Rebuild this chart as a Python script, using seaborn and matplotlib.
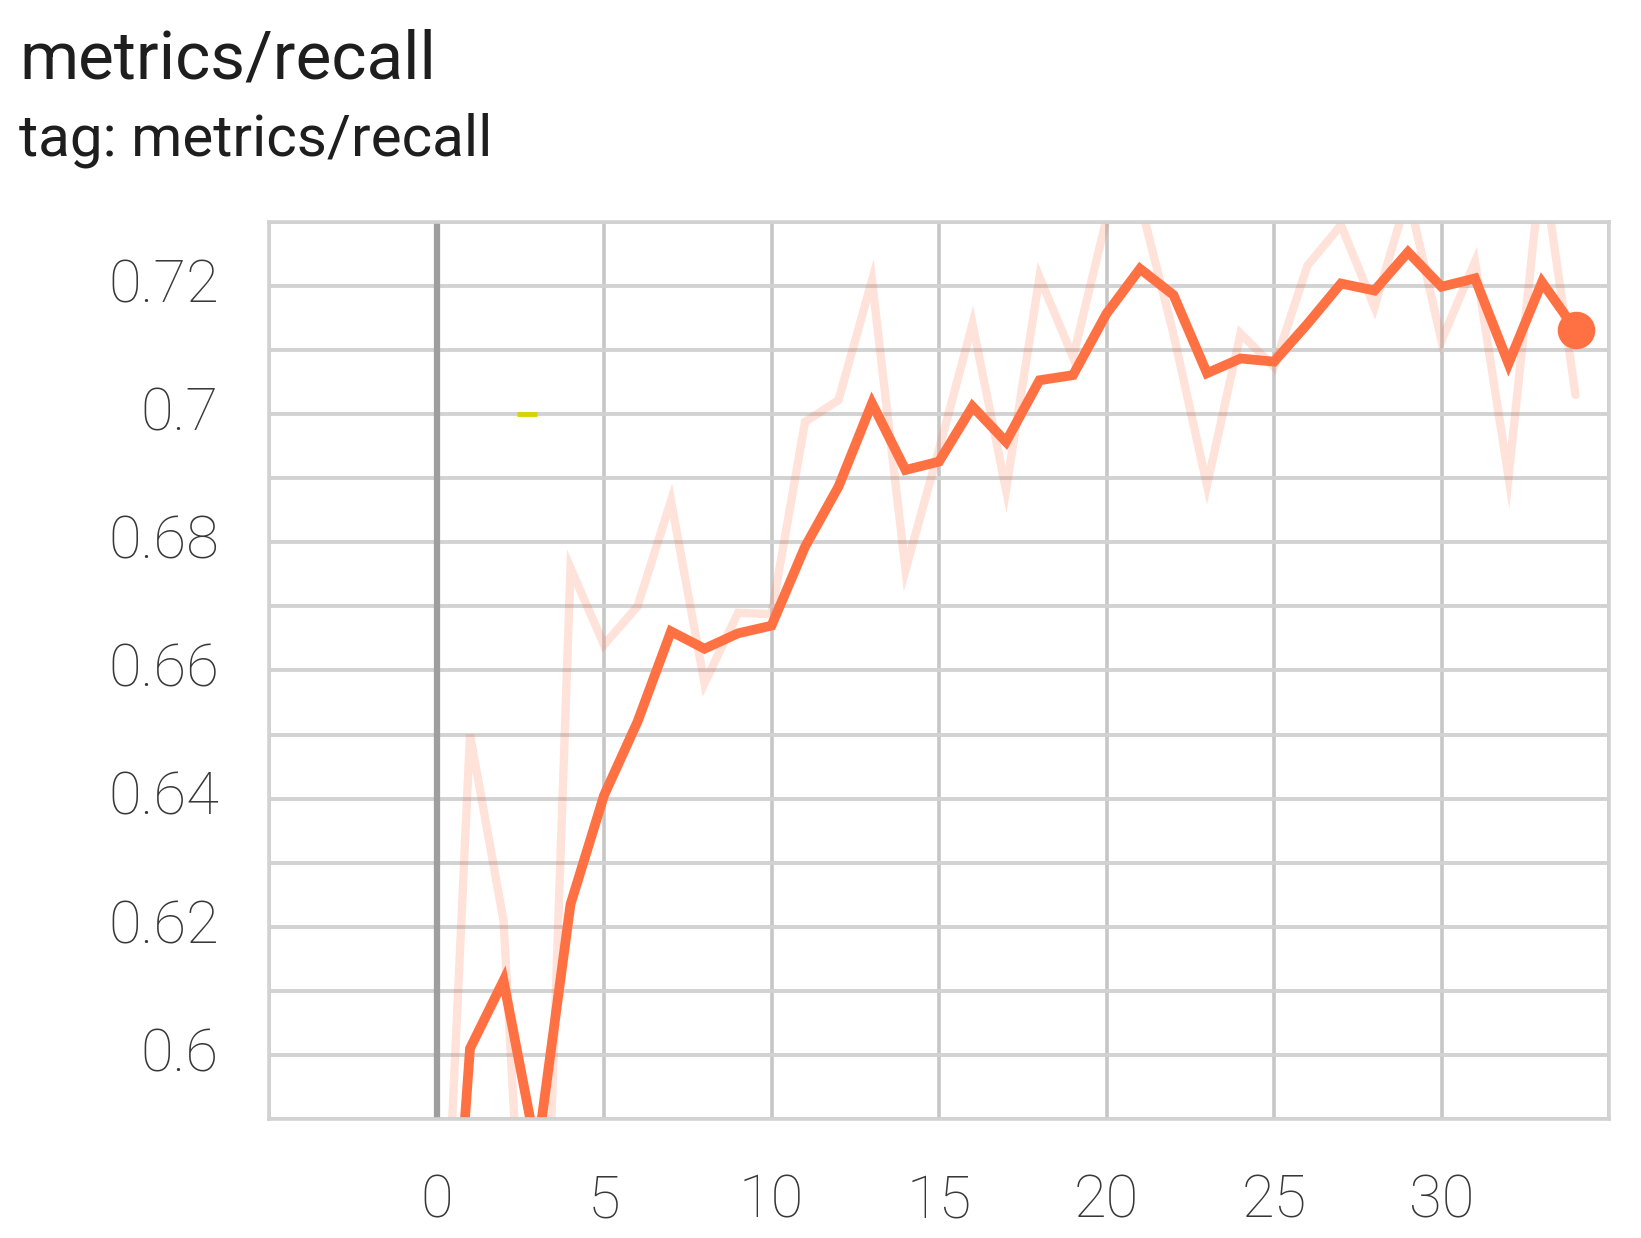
import matplotlib
matplotlib.use("Agg")
import matplotlib.pyplot as plt
import seaborn as sns
import pandas as pd

# values
steps = list(range(35))
raw = [0.537, 0.650, 0.621, 0.525, 0.676, 0.664, 0.670, 0.6865, 0.658, 0.669,
       0.6688, 0.6988, 0.7022, 0.7209, 0.6757, 0.6945, 0.7141, 0.6882, 0.7214, 0.7089,
       0.7305, 0.7332, 0.7125, 0.6889, 0.7126, 0.7074, 0.7232, 0.7295, 0.7167, 0.7343,
       0.7115, 0.7238, 0.6902, 0.7397, 0.703]
smoothed = [0.528, 0.601, 0.6116, 0.5845, 0.6235, 0.6405, 0.652, 0.6661, 0.6634, 0.6658,
            0.667, 0.6793, 0.6887, 0.7017, 0.6913, 0.6926, 0.7012, 0.6957, 0.7053, 0.7061,
            0.7157, 0.7227, 0.7186, 0.7064, 0.7087, 0.7082, 0.7141, 0.7204, 0.7193, 0.7253,
            0.7199, 0.7212, 0.7079, 0.7206, 0.7132]

xticks = [-5, 0, 5, 10, 15, 20, 25, 30, 35]
xtick_labels = ["", "0", "5", "10", "15", "20", "25", "30", ""]
yticks = [0.60, 0.62, 0.64, 0.66, 0.68, 0.70, 0.72]
ytick_labels = ["0.6", "0.62", "0.64", "0.66", "0.68", "0.7", "0.72"]
yminor = [0.59, 0.61, 0.63, 0.65, 0.67, 0.69, 0.71, 0.73]

# small yellow mark left over in the screenshot
mark_x = [2.4, 3.0]
mark_y = [0.70, 0.70]

title = "metrics/recall"
subtitle = "tag: metrics/recall"

df = pd.DataFrame({"step": steps, "raw": raw, "smoothed": smoothed})

sns.set_theme(style="white")
plt.rcParams["font.family"] = ["Roboto", "DejaVu Sans"]

W, H = 1641, 1238
fig = plt.figure(figsize=(W / 100, H / 100), dpi=100)
ax = fig.add_axes([269 / W, 1 - 1119 / H, (1609 - 269) / W, (1119 - 222) / H])

orange = "#ff7043"
grid_c = "#d2d2d2"
vgrid_c = "#c6c6c6"

sns.lineplot(data=df, x="step", y="raw", color=orange, alpha=0.2, lw=6,
             ax=ax, solid_joinstyle="miter")
sns.lineplot(data=df, x="step", y="smoothed", color=orange, lw=7,
             ax=ax, solid_joinstyle="miter")
ax.plot(steps[-1:], smoothed[-1:], "o", color=orange, ms=26, zorder=5)
ax.plot(mark_x, mark_y, color="#d6d300", lw=3.5, solid_capstyle="butt")
ax.axvline(0, color="#9e9e9e", lw=4.5, zorder=1.5)

ax.set_xlim(-5, 35)
ax.set_ylim(0.59, 0.73)
ax.set_xticks(xticks)
ax.set_xticklabels(xtick_labels)
ax.set_yticks(yticks)
ax.set_yticklabels(ytick_labels)
ax.set_yticks(yminor, minor=True)
ax.set_xlabel("")
ax.set_ylabel("")

ax.set_axisbelow(True)
ax.grid(True, axis="y", which="both", color=grid_c, lw=2.8)
ax.grid(True, axis="x", which="major", color=vgrid_c, lw=2.6)
for s in ax.spines.values():
    s.set_color(grid_c)
    s.set_linewidth(2.6)

ax.tick_params(axis="x", length=20, width=2.6, color=grid_c, pad=19,
               labelsize=43, labelcolor="#383838")
ax.tick_params(axis="y", which="both", length=18, width=2.6, color=grid_c, pad=18,
               labelsize=43, labelcolor="#383838")
for lab in ax.get_xticklabels() + ax.get_yticklabels():
    lab.set_fontweight("light")
for lab in ax.get_yticklabels():
    lab.set_verticalalignment("center")

fig.text(19 / W, 1 - 78 / H, title, fontsize=48.5, color="#1e1e1e", va="baseline")
fig.text(19 / W, 1 - 155 / H, subtitle, fontsize=42, color="#1e1e1e", va="baseline")

fig.savefig("out.png", dpi=100)
